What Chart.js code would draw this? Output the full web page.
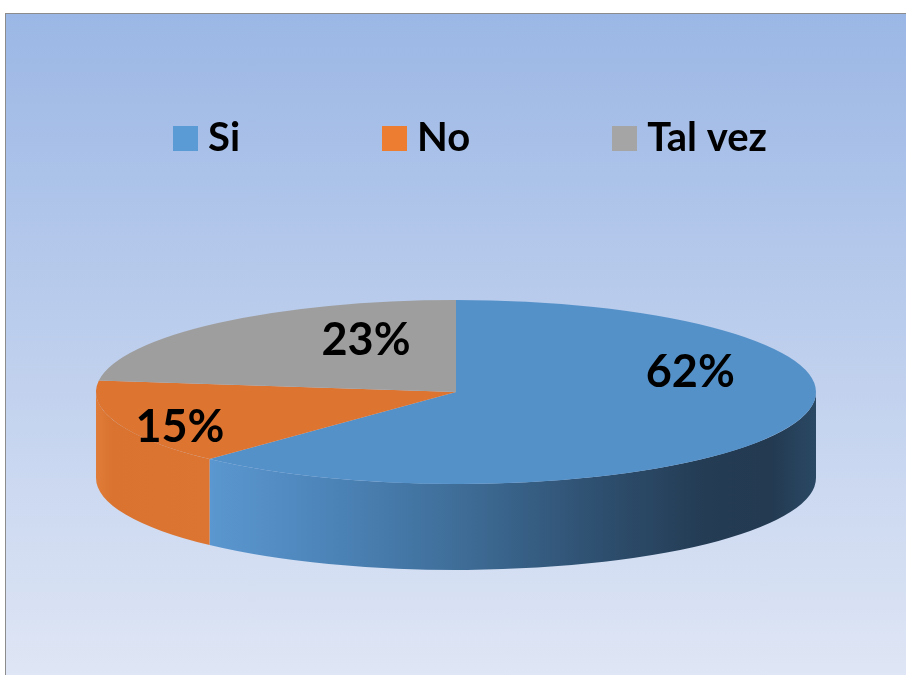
<!DOCTYPE html>
<html lang="es">
<head>
<meta charset="utf-8">
<title>Si / No / Tal vez</title>
<script src="https://cdn.jsdelivr.net/npm/chart.js@4.4.1/dist/chart.umd.min.js"></script>
<style>
  html, body { margin: 0; padding: 0; width: 906px; height: 675px; overflow: hidden; background: #ffffff; }
  #frame {
    position: absolute; left: 5px; top: 13px; width: 960px; height: 700px;
    border-top: 1px solid #8c8c8c; border-left: 1px solid #8c8c8c;
    background: linear-gradient(to bottom, #9BB7E5 0px, #DFE6F5 662px);
  }
  #wrap { position: absolute; left: 0; top: -34px; width: 950px; height: 709px; }
</style>
</head>
<body>
<div id="frame"></div>
<div id="wrap"><canvas id="chart" width="950" height="709"></canvas></div>
<script>
// Survey answers and their share (%)
const categories = ['Si', 'No', 'Tal vez'];
const percentages = [62, 15, 23];

// Colours of the top faces and legend swatches
const topColors = ['#5591C9', '#DD7430', '#9E9E9E'];
const legendColors = ['#5B9BD5', '#ED7D31', '#A5A5A5'];

// Shading of the cylinder wall, as [x, colour] stops along the width
const sideShades = [
  [[208, '#5B97D0'], [330, '#4C84B8'], [455, '#3F6E99'], [600, '#2E4F6F'], [705, '#243C54'], [770, '#233A51'], [816, '#2A4864']],
  [[96, '#E07C39'], [112, '#D9732F'], [208, '#DC7532']],
  [[96, '#8A8A8A'], [816, '#5A5A5A']]
];

// Tilted pie geometry (canvas pixels)
const PIE = { cx: 456, cy: 426, rx: 360, ry: 92, depth: 86 };

// Where each percentage sits: fraction of the radius along the mid-angle, plus a vertical lift
const labelRadial = [0.70, 0.815, 0.378];
const labelLift = [-29, 25, -11];

function swatch(color) {
  const c = document.createElement('canvas');
  c.width = 25; c.height = 25;
  const g = c.getContext('2d');
  g.fillStyle = color;
  g.fillRect(0, 0, 25, 25);
  return c;
}

// Parts of an angular range that face the viewer (lower half of the ellipse)
function frontRanges(a, b) {
  const out = [];
  for (let k = -1; k <= 1; k++) {
    const lo = Math.max(a, 2 * Math.PI * k), hi = Math.min(b, 2 * Math.PI * k + Math.PI);
    if (hi > lo) out.push([lo, hi]);
  }
  return out;
}

function sideFill(ctx, i) {
  const x0 = PIE.cx - PIE.rx, x1 = PIE.cx + PIE.rx;
  const grad = ctx.createLinearGradient(x0, 0, x1, 0);
  sideShades[i].forEach(([x, c]) => grad.addColorStop(Math.min(1, Math.max(0, (x - x0) / (x1 - x0))), c));
  return grad;
}

const pie3d = {
  id: 'pie3d',
  beforeDatasetsDraw(chart) {
    const ctx = chart.ctx;
    const arcs = chart.getDatasetMeta(0).data;
    const { cx, cy, rx, ry, depth } = PIE;
    // cylinder wall
    arcs.forEach((arc, i) => {
      frontRanges(arc.startAngle, arc.endAngle).forEach(([a, b]) => {
        ctx.beginPath();
        ctx.ellipse(cx, cy, rx, ry, 0, a, b);
        ctx.lineTo(cx + rx * Math.cos(b), cy + depth + ry * Math.sin(b));
        ctx.ellipse(cx, cy + depth, rx, ry, 0, b, a, true);
        ctx.closePath();
        ctx.fillStyle = sideFill(ctx, i);
        ctx.fill();
      });
    });
    // squash the round pie into the tilted top face
    const { x, y, outerRadius } = arcs[0];
    ctx.save();
    ctx.translate(cx, cy);
    ctx.scale(rx / outerRadius, ry / outerRadius);
    ctx.translate(-x, -y);
  },
  afterDatasetsDraw(chart) {
    const ctx = chart.ctx;
    ctx.restore();
    const arcs = chart.getDatasetMeta(0).data;
    const values = chart.data.datasets[0].data;
    ctx.save();
    ctx.font = 'bold 45px Lato';
    ctx.fillStyle = '#000000';
    ctx.textAlign = 'center';
    ctx.textBaseline = 'alphabetic';
    arcs.forEach((arc, i) => {
      const mid = (arc.startAngle + arc.endAngle) / 2;
      const lx = PIE.cx + labelRadial[i] * PIE.rx * Math.cos(mid);
      const ly = PIE.cy + labelRadial[i] * PIE.ry * Math.sin(mid) + labelLift[i];
      ctx.fillText(values[i] + '%', lx, ly);
    });
    ctx.restore();
  }
};

function build() {
  const swatches = legendColors.map(swatch);
  new Chart(document.getElementById('chart'), {
    type: 'pie',
    data: {
      labels: categories,
      datasets: [{
        data: percentages,
        backgroundColor: topColors,
        borderWidth: 0,
        hoverOffset: 0,
        clip: false
      }]
    },
    options: {
      responsive: false,
      animation: false,
      events: [],
      layout: { padding: 0 },
      plugins: {
        tooltip: { enabled: false },
        legend: {
          position: 'top',
          labels: {
            usePointStyle: true,
            boxWidth: 5,
            padding: 152,
            color: '#000000',
            font: { family: 'Lato', weight: 'bold', size: 40 },
            generateLabels: () => categories.map((text, i) => ({
              text,
              fillStyle: legendColors[i],
              strokeStyle: legendColors[i],
              lineWidth: 0,
              pointStyle: swatches[i],
              hidden: false,
              index: i,
              datasetIndex: 0,
              fontColor: '#000000'
            }))
          }
        }
      }
    },
    plugins: [pie3d]
  });
}

if (document.fonts && document.fonts.load) {
  Promise.all([document.fonts.load('bold 40px Lato'), document.fonts.load('bold 45px Lato')])
    .then(build, build);
} else {
  build();
}
</script>
</body>
</html>
